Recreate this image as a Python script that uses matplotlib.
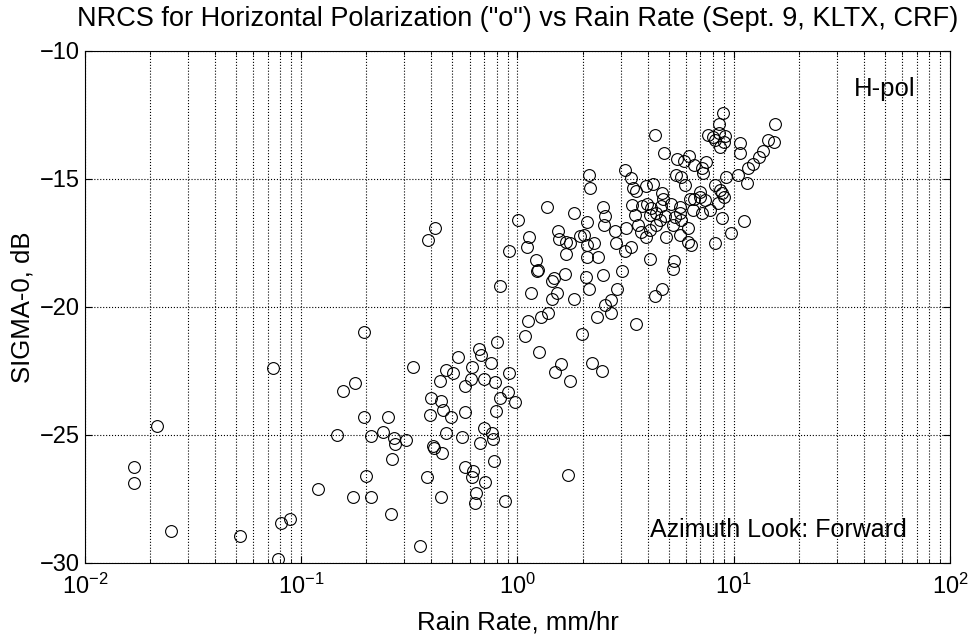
import numpy as np
import matplotlib
matplotlib.use("Agg")
import matplotlib.pyplot as plt

plt.rcParams['font.family'] = ['Liberation Sans', 'DejaVu Sans']

# rain rate (mm/hr) and H-pol sigma-0 (dB)
rain_rate = [
    0.074, 0.0215, 0.0169, 0.0169, 0.025, 0.052, 0.0805, 0.0886, 0.078,
    0.195, 0.805, 0.662, 0.676, 0.533, 0.756, 0.329, 0.617, 0.468, 0.501,
    0.918, 0.439, 0.612, 0.703, 0.783, 0.177, 0.156, 0.574, 0.906, 0.828,
    0.972, 0.398, 0.445, 0.451, 0.394, 0.491, 0.574, 0.797, 0.195, 0.252,
    0.703, 0.147, 0.210, 0.238, 0.269, 0.272, 0.305, 0.466, 0.552, 0.764,
    0.774, 0.669, 0.406, 0.412, 0.448, 0.262, 0.780, 0.573, 0.624, 0.617,
    0.199, 0.383, 0.711, 0.120, 0.173, 0.210, 0.442, 0.646, 0.637, 0.880,
    0.259, 0.355,
    0.414, 0.387, 1.01, 0.918, 0.834,
    1.37, 1.83, 2.09, 2.48, 2.55, 2.50, 2.81, 3.19, 3.48, 3.40,
    1.13, 1.11, 1.54, 1.56, 1.67, 1.74, 1.94, 2.04, 2.09, 2.25,
    1.67, 2.09, 2.36, 2.86, 3.13, 3.36, 4.08, 5.27, 5.24, 1.22,
    1.23, 1.25, 1.44, 1.47, 1.65, 2.08, 2.48, 3.05, 1.16, 1.52,
    1.45, 1.82, 2.15, 2.88, 4.66, 4.32, 2.72, 2.55, 2.72, 1.38,
    1.28, 1.12, 2.34, 3.52, 1.08, 1.98, 1.26, 1.59, 1.49, 2.20,
    2.46, 1.74, 1.72,
    4.32, 4.74, 5.44, 5.87, 6.19, 6.53, 7.11, 7.42, 8.92, 8.53,
    7.60, 8.02, 8.55, 8.99, 8.61, 8.17, 3.13, 2.15, 2.17, 3.36,
    3.41, 3.52, 3.91, 4.22, 4.64, 4.69, 5.43, 5.73, 5.93, 6.96,
    6.55, 7.34, 8.17, 8.61, 8.99, 15.5, 14.4, 15.3, 13.6, 13.1,
    12.3, 11.6, 10.5, 11.5, 10.7, 10.7, 9.08, 9.25, 8.87, 11.2,
    9.66, 8.87, 7.19,
    3.75, 3.98, 4.13, 4.59, 5.11, 5.62, 6.26, 6.96, 8.43, 7.74,
    6.46, 7.11, 4.08, 4.39, 3.59, 3.74, 3.94, 4.08, 4.39, 4.54,
    4.79, 5.33, 5.62, 5.73, 5.24, 4.88, 6.14, 5.62, 6.14, 6.37,
    8.17,
]
sigma0_h = [
    -22.4, -24.65, -26.24, -26.86, -28.76, -28.95, -28.43, -28.28, -29.86,
    -20.96, -21.38, -21.65, -21.88, -21.96, -22.18, -22.33, -22.36, -22.46, -22.57,
    -22.57, -22.89, -22.82, -22.82, -22.92, -22.96, -23.27, -23.09, -23.31, -23.54,
    -23.70, -23.54, -23.66, -24.02, -24.21, -24.28, -24.09, -24.05, -24.31, -24.28,
    -24.71, -25.01, -25.04, -24.89, -25.13, -25.36, -25.20, -24.93, -25.07, -24.91,
    -25.17, -25.30, -25.43, -25.52, -25.69, -25.95, -26.00, -26.24, -26.39, -26.63,
    -26.59, -26.63, -26.82, -27.11, -27.41, -27.41, -27.43, -27.28, -27.64, -27.59,
    -28.10, -29.35,
    -16.93, -17.38, -16.60, -17.80, -19.18,
    -16.08, -16.34, -16.67, -16.11, -16.45, -16.80, -17.02, -16.93, -16.41, -16.02,
    -17.25, -17.64, -17.02, -17.36, -17.45, -17.49, -17.23, -17.19, -17.58, -17.49,
    -17.94, -18.04, -18.06, -17.49, -17.80, -17.64, -18.14, -18.20, -18.53, -18.16,
    -18.58, -18.55, -18.97, -18.88, -18.71, -18.82, -18.75, -18.58, -19.46, -19.44,
    -19.68, -19.70, -19.31, -19.31, -19.30, -19.57, -19.73, -19.93, -20.22, -20.22,
    -20.40, -20.56, -20.38, -20.68, -21.13, -21.05, -21.75, -22.23, -22.55, -22.20,
    -22.51, -22.89, -26.55,
    -13.28, -13.97, -14.22, -14.30, -14.10, -14.45, -14.57, -14.34, -12.43, -12.85,
    -13.28, -13.35, -13.21, -13.54, -13.74, -13.48, -14.65, -14.84, -15.35, -14.97,
    -15.35, -15.47, -15.27, -15.21, -15.55, -15.78, -14.84, -14.91, -15.23, -15.50,
    -15.79, -15.82, -15.23, -15.45, -15.70, -12.85, -13.48, -13.54, -13.89, -14.13,
    -14.41, -14.58, -14.84, -15.14, -13.58, -14.00, -13.32, -14.91, -16.54, -16.63,
    -17.11, -15.56, -14.77,
    -16.04, -15.98, -16.15, -16.04, -15.98, -16.09, -15.78, -15.69, -15.94, -16.21,
    -16.21, -16.33, -16.41, -16.34, -16.80, -17.06, -17.25, -16.99, -16.80, -16.60,
    -16.46, -16.47, -16.34, -16.60, -16.80, -17.25, -16.93, -17.19, -17.45, -17.58,
    -17.49,
]

x_ticks = [1e-2, 1e-1, 1e0, 1e1, 1e2]
x_tick_labels = ['$\\mathregular{10^{-2}}$', '$\\mathregular{10^{-1}}$',
                 '$\\mathregular{10^{0}}$', '$\\mathregular{10^{1}}$',
                 '$\\mathregular{10^{2}}$']
y_ticks = [-30, -25, -20, -15, -10]

fig = plt.figure(figsize=(9.79, 6.38), dpi=100)
ax = fig.add_axes([0.0868, 0.1176, 0.8836, 0.8025])

ax.plot(rain_rate, sigma0_h, 'o', mfc='none', mec='black', ms=8.5, mew=0.8)

ax.set_xscale('log')
ax.set_xlim(1e-2, 1e2)
ax.set_ylim(-30, -10)
ax.set_xticks(x_ticks)
ax.set_xticklabels(x_tick_labels)
ax.set_yticks(y_ticks)
ax.tick_params(which='both', direction='in', top=True, right=True, labelsize=17)
ax.tick_params(axis='x', pad=8)
ax.tick_params(which='major', length=5)
ax.tick_params(which='minor', length=3)

ax.grid(True, which='major', linestyle=':', color='black', linewidth=0.8)
ax.grid(True, which='minor', axis='x', linestyle=':', color='black', linewidth=0.8)

ax.set_xlabel('Rain Rate, mm/hr', fontsize=18.5, labelpad=8)
ax.set_ylabel('SIGMA-0, dB', fontsize=18.5, labelpad=4)
ax.set_title('NRCS for Horizontal Polarization ("o") vs Rain Rate (Sept. 9, KLTX, CRF)',
             fontsize=19.5, pad=18)

ax.text(36, -11.5, 'H-pol', fontsize=18.5, va='center')
ax.text(4.1, -28.7, 'Azimuth Look: Forward', fontsize=18, va='center')

fig.savefig('out.png', dpi=100)
